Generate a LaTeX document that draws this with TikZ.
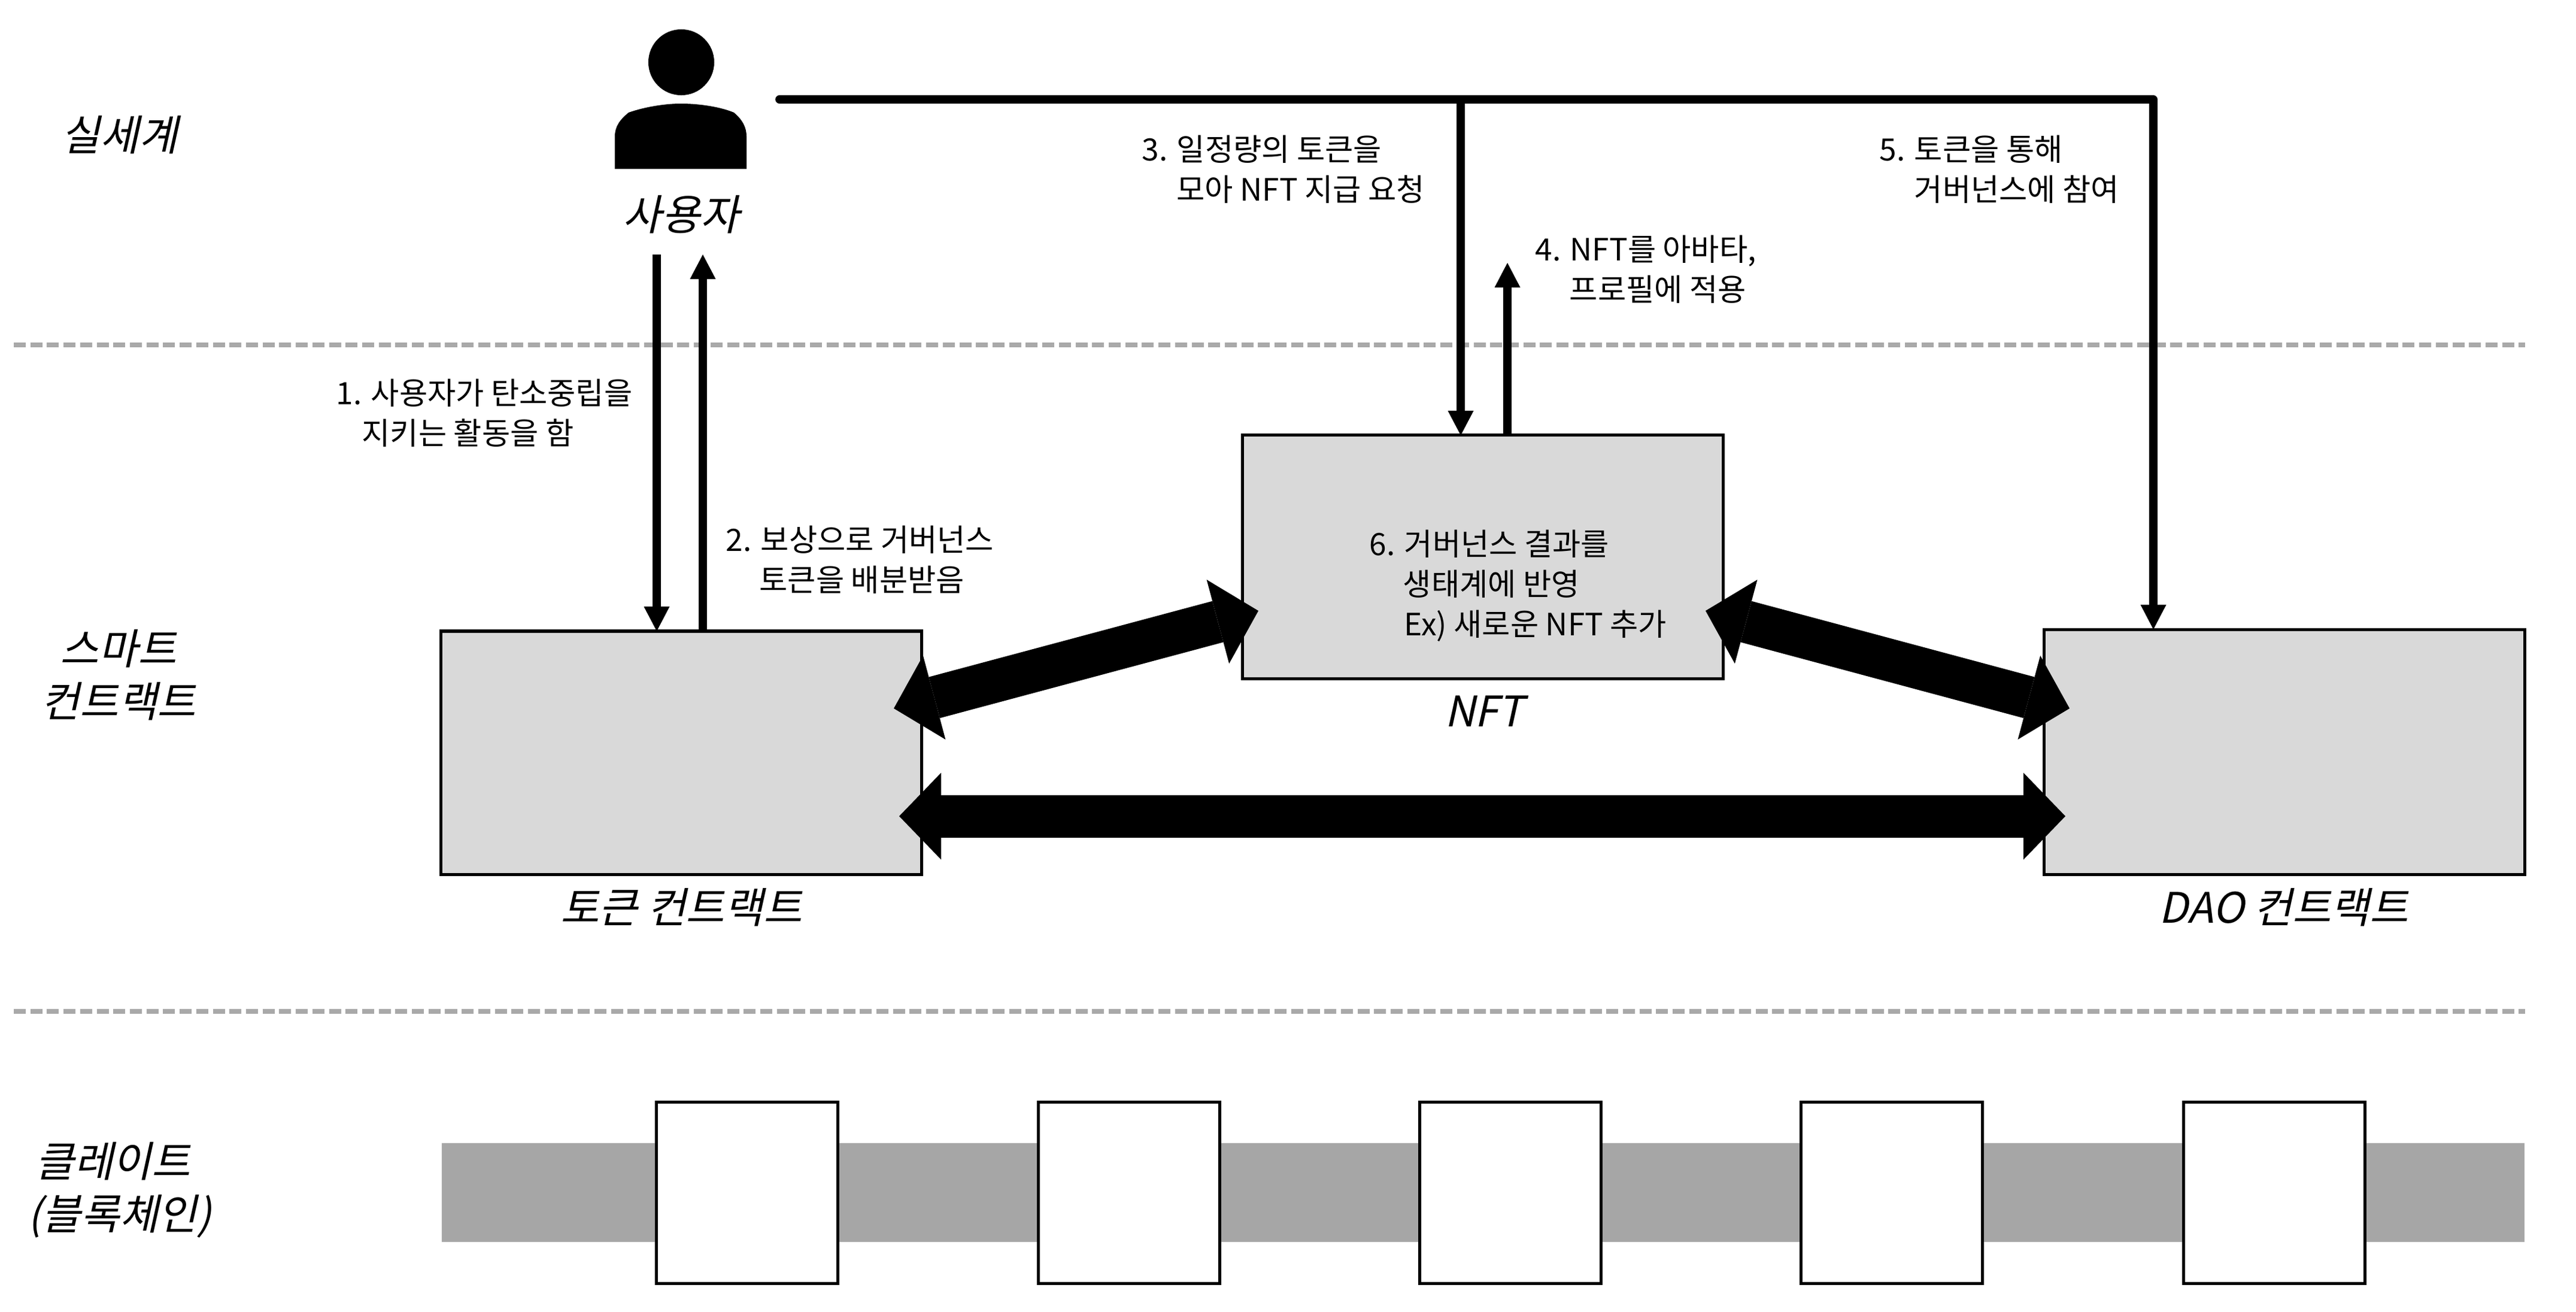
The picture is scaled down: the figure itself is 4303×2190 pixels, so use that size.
\documentclass[tikz,border=0pt]{standalone}
\usepackage{fontspec}
\setmainfont{Noto Sans CJK KR}
\newfontfamily\slfont[FakeSlant=0.22]{Noto Sans CJK KR}
\usetikzlibrary{arrows.meta}
\definecolor{boxgray}{HTML}{D9D9D9}
\definecolor{bandgray}{HTML}{A6A6A6}
\definecolor{sepgray}{HTML}{A9A9A9}
\tikzset{
  x=0.01cm,y=-0.01cm,
  lbl/.style={inner sep=0pt,anchor=west,align=left,font=\fontsize{14.6}{19.06}\selectfont},
  capt/.style={inner sep=0pt,align=center,font=\slfont\fontsize{20}{25}\selectfont},
  box/.style={draw=black,line width=1.5pt,fill=boxgray,inner sep=0pt},
  blockbox/.style={draw=black,line width=1.6pt,fill=white,inner sep=0pt,minimum width=3.03cm,minimum height=3.03cm},
  thin arrow/.style={line width=3.9pt,-{Triangle[length=0.41cm,width=0.43cm,line width=0pt]}},
  fat arrow/.style={line width=0.71cm,{Triangle[length=0.7cm,width=1.45cm,line width=0pt]}-{Triangle[length=0.7cm,width=1.45cm,line width=0pt]}},
  sep line/.style={draw=sepgray,line width=2.13pt,dash pattern=on 5.69pt off 2.19pt},
}
\begin{document}
\begin{tikzpicture}
\useasboundingbox (0,0) rectangle (4303,2190);
% separators
\coordinate (s1a) at (23,576); \coordinate (s1b) at (4218,576);
\coordinate (s2a) at (23,1689); \coordinate (s2b) at (4218,1689);
\draw[sep line] (s1a) -- (s1b);
\draw[sep line] (s2a) -- (s2b);
% boxes
\node[box,minimum width=8.02cm,minimum height=4.06cm] (token) at (1138,1257) {};
\node[box,minimum width=8.03cm,minimum height=4.07cm] (nft) at (2477,930) {};
\node[box,minimum width=8.02cm,minimum height=4.09cm] (dao) at (3816,1256) {};
% person
\fill (1138,104) circle (0.55cm);
\fill (1027,282) -- (1027,228) .. controls (1027,212) and (1035,200) .. (1050,188)
  .. controls (1075,179) and (1110,173) .. (1137,173)
  .. controls (1170,173) and (1205,179) .. (1226,188)
  .. controls (1240,200) and (1247,212) .. (1247,228) -- (1247,282) -- cycle;
% band
\fill[bandgray] (738,1909) rectangle (4217,2074);
\node[blockbox] (b1) at (1248,1992) {};
\node[blockbox] (b2) at (1886,1992) {};
\node[blockbox] (b3) at (2523,1992) {};
\node[blockbox] (b4) at (3160,1992) {};
\node[blockbox] (b5) at (3799,1992) {};
% thin arrows
\coordinate (u1) at (1097,425); \coordinate (t1) at (1097,1054);
\coordinate (u2) at (1174,425); \coordinate (t2) at (1174,1054);
\draw[thin arrow] (u1) -- (t1);
\draw[thin arrow] (t2) -- (u2);
\coordinate (start) at (1302,166);
\coordinate (corner) at (3597,166);
\coordinate (daotop) at (3597,1051);
\coordinate (jn) at (2440,166);
\coordinate (nt) at (2440,727);
\coordinate (nu) at (2518,727);
\coordinate (nup) at (2518,439);
\draw[thin arrow,line cap=round,line join=round] (start) -- (corner) -- (daotop);
\draw[thin arrow] (jn) -- (nt);
\draw[thin arrow] (nu) -- (nup);
% fat arrows
\coordinate (f1a) at (1493,1183); \coordinate (f1b) at (2102,1020);
\coordinate (f2a) at (2849,1020); \coordinate (f2b) at (3457,1183);
\coordinate (f3a) at (1502,1363); \coordinate (f3b) at (3450,1363);
\draw[fat arrow] (f1a) -- (f1b);
\draw[fat arrow] (f2a) -- (f2b);
\draw[fat arrow] (f3a) -- (f3b);
% captions
\node[capt] (c1) at (200,225) {실세계};
\node[capt] (c2) at (1138,358) {사용자};
\node[capt] (c3) at (198,1127) {스마트\\컨트랙트};
\node[capt] (c4) at (1138,1515) {토큰 컨트랙트};
\node[capt] (c5) at (2479,1188) {NFT};
\node[capt] (c6) at (3815,1515) {DAO 컨트랙트};
\node[capt] (c7) at (200,1987) {클레이트\hspace*{0.22cm}\\(블록체인)};
% labels
\node[lbl] (l1) at (561,690) {1. 사용자가 탄소중립을\\\hspace*{0.43cm}지키는 활동을 함};
\node[lbl] (l2) at (1212,935) {2. 보상으로 거버넌스\\\hspace*{0.56cm}토큰을 배분받음};
\node[lbl] (l3) at (1907,283) {3. 일정량의 토큰을\\\hspace*{0.58cm}모아 NFT 지급 요청};
\node[lbl] (l4) at (2564,450) {4. NFT를 아바타,\\\hspace*{0.57cm}프로필에 적용};
\node[lbl] (l5) at (3139,283) {5. 토큰을 통해\\\hspace*{0.58cm}거버넌스에 참여};
\node[lbl] (l6) at (2287,978) {6. 거버넌스 결과를\\\hspace*{0.56cm}생태계에 반영\\\hspace*{0.58cm}Ex) 새로운 NFT 추가};
\end{tikzpicture}
\end{document}
